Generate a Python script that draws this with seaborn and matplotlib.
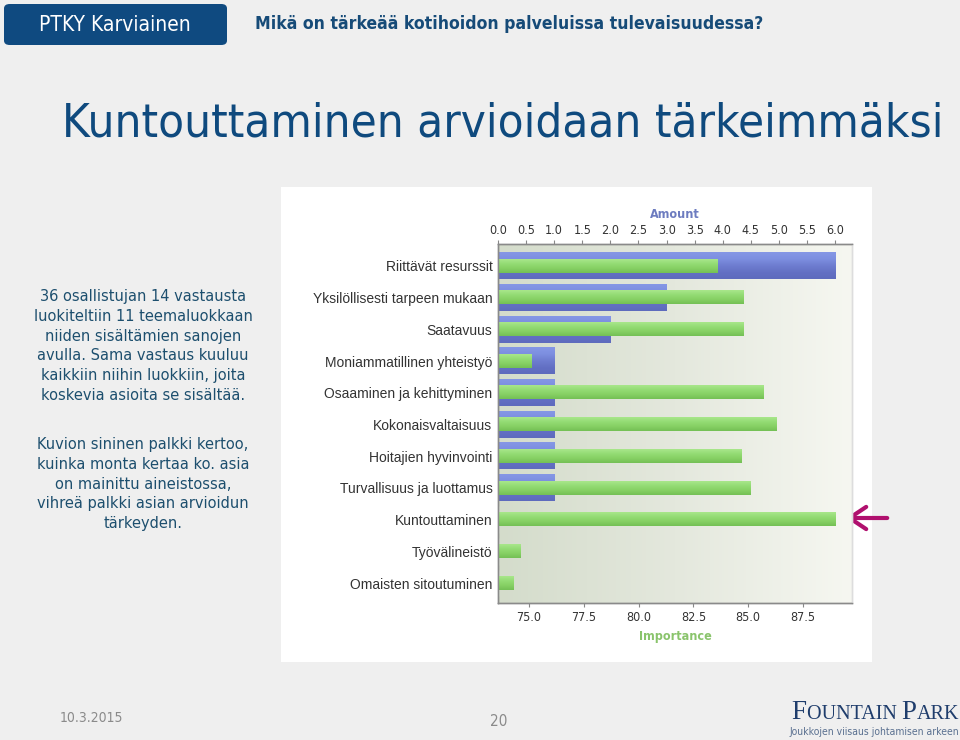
import numpy as np
import matplotlib
matplotlib.use("Agg")
import matplotlib.pyplot as plt
from matplotlib.colors import LinearSegmentedColormap
from matplotlib.patches import FancyBboxPatch, Rectangle
import seaborn as sns
import pandas as pd

# ---------------- data ----------------
categories = ["Riittävät resurssit", "Yksilöllisesti tarpeen mukaan", "Saatavuus",
              "Moniammatillinen yhteistyö", "Osaaminen ja kehittyminen",
              "Kokonaisvaltaisuus", "Hoitajien hyvinvointi", "Turvallisuus ja luottamus",
              "Kuntouttaminen", "Työvälineistö", "Omaisten sitoutuminen"]
amount = [6, 3, 2, 1, 1, 1, 1, 1, 0, 0, 0]
importance = [83.6, 84.8, 84.8, 75.1, 85.7, 86.3, 84.7, 85.1, 89.0, 74.6, 74.3]
amount_ticks = [0.0, 0.5, 1.0, 1.5, 2.0, 2.5, 3.0, 3.5, 4.0, 4.5, 5.0, 5.5, 6.0]
importance_ticks = [75.0, 77.5, 80.0, 82.5, 85.0, 87.5]

df = pd.DataFrame({"cat": categories, "amount": amount, "importance": importance})

sns.set_style("white")
plt.rcParams['font.family'] = ['DejaVu Sans']

W, H = 960, 740
fig = plt.figure(figsize=(9.6, 7.4), dpi=100)
fig.patch.set_facecolor("#efefef")

def fx(px):
    return px / W

def fy(py):
    return 1 - py / H

COND = dict(family=["DejaVu Sans"], fontstretch="condensed")

# white chart panel
fig.patches.append(Rectangle((fx(281), fy(662)), fx(872) - fx(281), fy(187) - fy(662),
                             transform=fig.transFigure, facecolor="white", edgecolor="none", zorder=0))

# header box
fig.patches.append(FancyBboxPatch((fx(4), fy(45)), fx(223), fy(4) - fy(45),
                                  boxstyle="round,pad=0,rounding_size=0.006",
                                  transform=fig.transFigure, facecolor="#0f4a80",
                                  edgecolor="none", zorder=1))
fig.text(fx(115), fy(25), "PTKY Karviainen", color="white", fontsize=15,
         ha="center", va="center", **COND)
fig.text(fx(255), fy(24), "Mikä on tärkeää kotihoidon palveluissa tulevaisuudessa?",
         color="#164b78", fontsize=12.6, ha="left", va="center", weight="bold", **COND)
fig.text(fx(503), fy(124), "Kuntouttaminen arvioidaan tärkeimmäksi", color="#0f4a7e",
         fontsize=34, ha="center", va="center", **COND)

para1 = ("36 osallistujan 14 vastausta\nluokiteltiin 11 teemaluokkaan\nniiden sisältämien sanojen\n"
         "avulla. Sama vastaus kuuluu\nkaikkiin niihin luokkiin, joita\nkoskevia asioita se sisältää.")
para2 = ("Kuvion sininen palkki kertoo,\nkuinka monta kertaa ko. asia\non mainittu aineistossa,\n"
         "vihreä palkki asian arvioidun\ntärkeyden.")
fig.text(fx(143), fy(289), para1, color="#1d4f6e", fontsize=10.5, ha="center", va="top",
         linespacing=1.4)
fig.text(fx(143), fy(437), para2, color="#1d4f6e", fontsize=10.5, ha="center", va="top",
         linespacing=1.4)

# footer
fig.text(fx(60), fy(718), "10.3.2015", color="#8a8a8a", fontsize=10, ha="left", va="center",
         **COND)
fig.text(fx(499), fy(721), "20", color="#8a8a8a", fontsize=11, ha="center", va="center",
         **COND)

# small-caps logo text, laid out right to left
renderer = fig.canvas.get_renderer()
pieces = [("F", 19.5), ("OUNTAIN ", 14.5), ("P", 19.5), ("ARK", 14.5)]
xcur = 959.0
for txt, size in reversed(pieces):
    t = fig.text(fx(xcur), fy(719), txt, color="#1f3d6c", fontsize=size, ha="right",
                 va="baseline", family=["Liberation Serif", "DejaVu Serif"])
    bb = t.get_window_extent(renderer=renderer)
    xcur -= bb.width
fig.text(fx(959), fy(732), "Joukkojen viisaus johtamisen arkeen", color="#5a7090",
         fontsize=7.5, ha="right", va="center", **COND)

# ---------------- chart ----------------
L, R, T, B = 498, 852, 244, 603
ax = fig.add_axes([fx(L), fy(B), fx(R) - fx(L), fy(T) - fy(B)])
ax2 = ax.twiny()
ax.set_zorder(2)
ax2.set_zorder(3)

sns.barplot(data=df, x="amount", y="cat", orient="h", ax=ax, width=0.84,
            color="#7181d3", saturation=1, errorbar=None)
sns.barplot(data=df, x="importance", y="cat", orient="h", ax=ax2, width=0.42,
            color="#88d068", saturation=1, errorbar=None)

ylo, yhi = 10.63, -0.69
amin, amax = 0, 6.3
imin, imax = 73.585, 89.74

blue_cmap = LinearSegmentedColormap.from_list("b", ["#8597e6", "#7d8fe0", "#6e7dd0", "#6370c4", "#5e6bbd"])
green_cmap = LinearSegmentedColormap.from_list("g", ["#a8e68b", "#94dc74", "#86d064", "#74c055"])
grad = np.linspace(0, 1, 64).reshape(-1, 1)

def gradientify(axis, cmap):
    for p in list(axis.patches):
        x0, y0 = p.get_x(), p.get_y()
        w, h = p.get_width(), p.get_height()
        if w <= 0:
            continue
        axis.imshow(grad, cmap=cmap, aspect="auto", origin="upper",
                    extent=(x0, x0 + w, y0 + h, y0), zorder=p.get_zorder() + 0.1,
                    interpolation="bilinear")
        p.set_visible(False)

gradientify(ax, blue_cmap)
gradientify(ax2, green_cmap)

# plot background gradient
bg_cmap = LinearSegmentedColormap.from_list("bg", ["#d4dccb", "#e4e8dd", "#f6f7f1"])
ax.imshow(np.linspace(0, 1, 256).reshape(1, -1), cmap=bg_cmap, aspect="auto",
          extent=(amin, amax, ylo, yhi), zorder=0, interpolation="bilinear")

ax.set_xlim(amin, amax)
ax2.set_xlim(imin, imax)
ax.set_ylim(ylo, yhi)
ax2.set_ylim(ylo, yhi)

tick_font = dict(family="DejaVu Sans", stretch="condensed", size=9)
# amount axis on top
ax.xaxis.set_ticks_position("top")
ax.xaxis.set_label_position("top")
ax.set_xticks(amount_ticks)
ax.set_xticklabels([f"{t:.1f}" for t in amount_ticks], fontdict=tick_font, color="#333333")
ax.set_xlabel("Amount", color="#6d7cc0", weight="bold", labelpad=4, fontsize=9, **COND)
# importance axis on bottom
ax2.xaxis.set_ticks_position("bottom")
ax2.xaxis.set_label_position("bottom")
ax2.set_xticks(importance_ticks)
ax2.set_xticklabels([f"{t:.1f}" for t in importance_ticks], fontdict=tick_font, color="#333333")
ax2.set_xlabel("Importance", color="#8ac46c", weight="bold", labelpad=4, fontsize=9, **COND)

ax.set_ylabel("")
ax2.set_ylabel("")
ax.set_yticks(range(len(categories)))
ax.set_yticklabels(categories, family=["Liberation Sans", "DejaVu Sans"], fontsize=10,
                   color="#333333")
ax2.tick_params(axis="y", left=False, right=False, labelleft=False, labelright=False)
ax.tick_params(axis="y", length=0, pad=4)
ax.tick_params(axis="x", length=3, color="#888888", pad=2, bottom=False, top=True)
ax2.tick_params(axis="x", length=3, color="#888888", pad=3, top=False, bottom=True)

for a in (ax, ax2):
    for s in a.spines.values():
        s.set_color("#8a8a8a")
        s.set_linewidth(1.0)
    a.spines["right"].set_color("#dddddd")
ax2.patch.set_visible(False)

# arrow
fig.patches.append(matplotlib.patches.FancyArrowPatch(
    (fx(890), fy(518)), (fx(843), fy(518)), transform=fig.transFigure,
    arrowstyle="->,head_length=6,head_width=4", color="#b0106e", lw=3,
    mutation_scale=2))

fig.savefig("out.png", dpi=100, facecolor=fig.get_facecolor())
